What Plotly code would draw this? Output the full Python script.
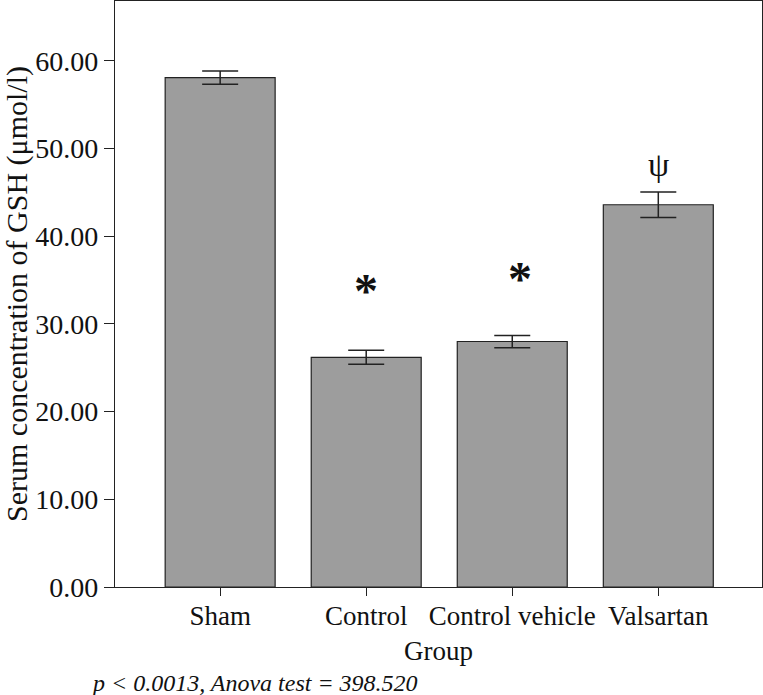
import plotly.graph_objects as go

groups = ["Sham", "Control", "Control vehicle", "Valsartan"]
means = [58.1, 26.2, 28.0, 43.6]
errors = [0.75, 0.8, 0.7, 1.45]
marks = ["", "*", "*", "ψ"]
mark_y = [None, 33.8, 35.2, 48.2]
mark_dx = [0, 0, 8, 0]

fig = go.Figure()
fig.add_trace(go.Bar(
    x=groups, y=means, width=0.753,
    marker=dict(color="#9d9d9d", line=dict(color="#222222", width=1.2)),
    error_y=dict(type="data", array=errors, color="#222222", thickness=1.5, width=18),
    showlegend=False,
))

for g, m, yy, dx in zip(groups, marks, mark_y, mark_dx):
    if m:
        fig.add_annotation(
            x=g, y=yy, text=("<b>*</b>" if m == "*" else m), showarrow=False,
            font=dict(family="Liberation Serif", size=(48 if m == "*" else 34), color="#111111"),
            xanchor="center", yanchor="middle", xshift=dx,
        )

fig.add_annotation(
    xref="paper", yref="paper", x=-0.04, y=-0.164,
    text="<i>p < 0.0013, Anova test = 398.520</i>", showarrow=False,
    xanchor="left", yanchor="middle",
    font=dict(family="Liberation Serif", size=24, color="#111111"),
)

fig.update_layout(
    width=763, height=695,
    margin=dict(l=115, r=1, t=1, b=108),
    paper_bgcolor="white", plot_bgcolor="white",
    font=dict(family="Liberation Serif", size=26, color="#111111"),
)
fig.update_xaxes(
    range=[-0.72, 3.71], showline=True, linecolor="#222222", linewidth=1.2, mirror=True,
    ticks="outside", ticklen=8, tickcolor="#222222", showgrid=False,
    ticklabelstandoff=-4,
    title=dict(text="Group", standoff=11, font=dict(size=27)),
    tickfont=dict(size=27),
)
fig.update_yaxes(
    range=[0, 66.84], showline=True, linecolor="#222222", linewidth=1.2, mirror=True,
    ticks="outside", ticklen=10, tickcolor="#222222", showgrid=False, zeroline=False,
    tickvals=[0, 10, 20, 30, 40, 50, 60], tickformat=".2f",
    title=dict(text="Serum concentration of GSH (μmol/l)", standoff=4, font=dict(size=30)),
    tickfont=dict(size=28),
)

fig.write_html(
    "out.html",
    config={"displayModeBar": False},
    post_script="document.body.style.margin='0px';document.body.style.overflow='hidden';",
)
